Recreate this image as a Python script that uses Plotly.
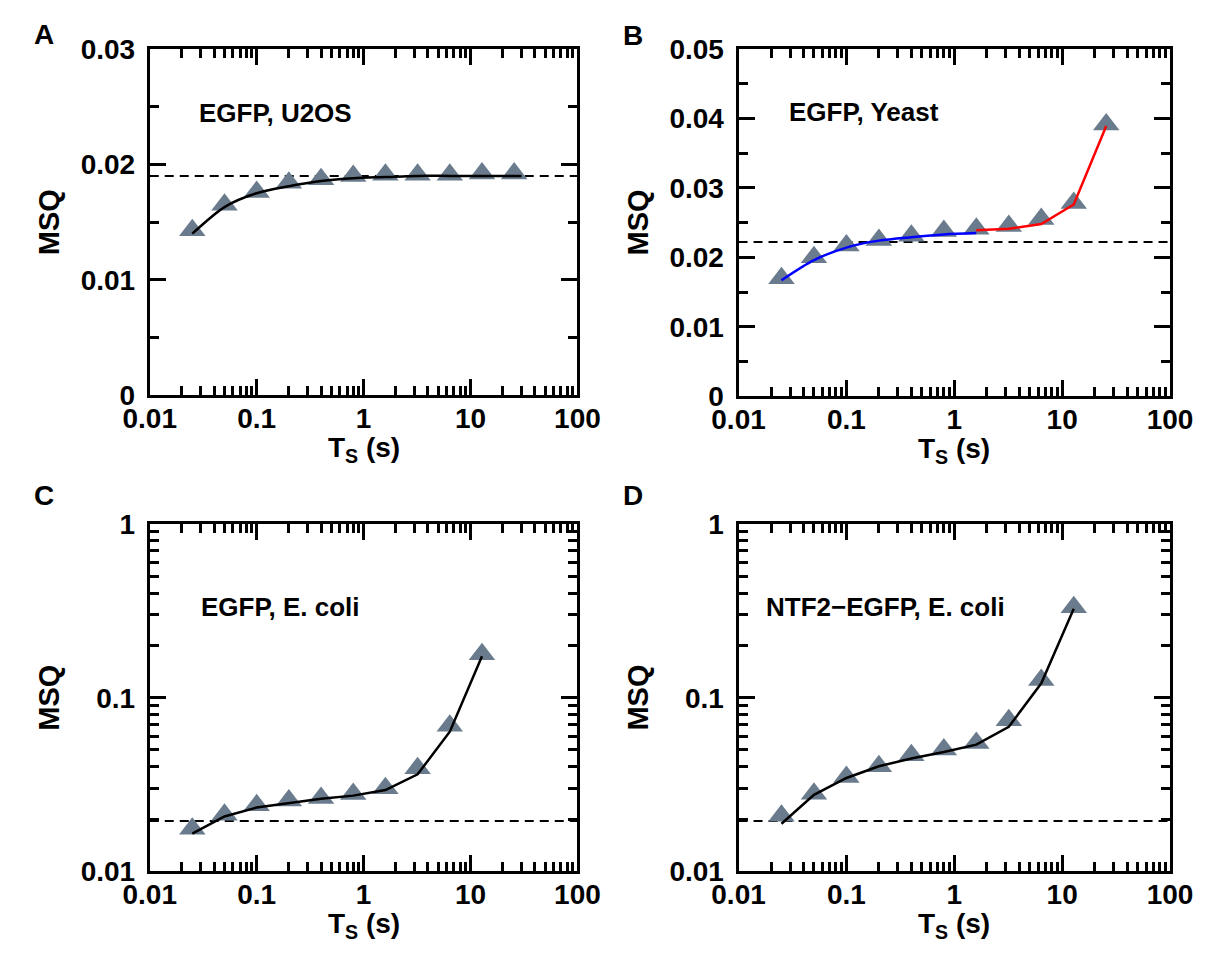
import plotly.graph_objects as go

W, H = 1218, 959
FONT = "Liberation Sans, Arial, sans-serif"

# Sampling times (s)
ts = [0.025, 0.05, 0.1, 0.2, 0.4, 0.8, 1.6, 3.2, 6.4, 12.8, 25.6]
ts_ecoli = [0.025, 0.05, 0.1, 0.2, 0.4, 0.8, 1.6, 3.2, 6.4, 12.8]

# A: EGFP, U2OS
msq_u2os = [0.0143, 0.0165, 0.0176, 0.0184, 0.0187, 0.0190, 0.0191, 0.0191, 0.0191, 0.0192, 0.0192]
fit_u2os_t = [0.025, 0.05, 0.1, 0.2, 0.4, 0.8, 1.6, 3.2, 6.4, 12.8, 30.0]
fit_u2os = [0.0140, 0.0163, 0.0175, 0.0181, 0.01855, 0.0188, 0.0189, 0.0190, 0.0190, 0.0190, 0.0190]
plateau_u2os = 0.0190

# B: EGFP, Yeast
msq_yeast = [0.0170, 0.0200, 0.0217, 0.0225, 0.0231, 0.0238, 0.0241, 0.0245, 0.0255, 0.0278, 0.0391]
fit_yeast_short_t = [0.025, 0.05, 0.1, 0.2, 0.4, 0.8, 1.6]
fit_yeast_short = [0.0167, 0.0196, 0.0214, 0.0224, 0.0229, 0.0233, 0.0235]
fit_yeast_long_t = [1.6, 3.2, 6.4, 12.8, 25.6]
fit_yeast_long = [0.0239, 0.0241, 0.0248, 0.0276, 0.0389]
plateau_yeast = 0.0222

# C: EGFP, E. coli
msq_ecoli = [0.0176, 0.0212, 0.0240, 0.0256, 0.0265, 0.0279, 0.0301, 0.0393, 0.0690, 0.178]
line_ecoli = [0.0165, 0.0207, 0.0233, 0.0248, 0.0262, 0.0273, 0.0294, 0.0362, 0.0637, 0.173]
plateau_ecoli = 0.0195

# D: NTF2-EGFP, E. coli
msq_ntf2 = [0.0209, 0.0280, 0.0350, 0.0403, 0.0467, 0.0504, 0.0549, 0.0741, 0.1266, 0.332]
line_ntf2 = [0.0188, 0.0276, 0.0345, 0.0403, 0.0447, 0.0487, 0.0537, 0.0680, 0.121, 0.325]
plateau_ntf2 = 0.0195

# Axis ticks
x_tickvals = [0.01, 0.1, 1, 10, 100]
x_ticktext = ["0.01", "0.1", "1", "10", "100"]
yA_tickvals = [0, 0.01, 0.02, 0.03]
yA_ticktext = ["0", "0.01", "0.02", "0.03"]
yB_tickvals = [0, 0.01, 0.02, 0.03, 0.04, 0.05]
yB_ticktext = ["0", "0.01", "0.02", "0.03", "0.04", "0.05"]
yLog_tickvals = [0.01, 0.1, 1]
yLog_ticktext = ["0.01", "0.1", "1"]

panel_letters = ["A", "B", "C", "D"]
panel_titles = ["EGFP, U2OS", "EGFP, Yeast", "EGFP, E. coli", "NTF2\u2212EGFP, E. coli"]

MARKER_COLOR = "#6a7b8d"

# Plot boxes in pixels (left, right, top, bottom)
boxes = [(128, 574, 35, 393), (742, 1192, 35, 394), (128, 574, 526, 885), (742, 1192, 526, 885)]


def fx(p):
    return p / W


def fy(p):
    return 1 - p / H


fig = go.Figure()


def add_panel(i, t_pts, y_pts, lines, plateau):
    xa = "x" if i == 0 else f"x{i + 1}"
    ya = "y" if i == 0 else f"y{i + 1}"
    fig.add_trace(go.Scatter(x=[0.01, 100], y=[plateau, plateau], mode="lines",
                             line=dict(color="black", width=2, dash="9px,6px"),
                             xaxis=xa, yaxis=ya, showlegend=False, hoverinfo="skip"))
    fig.add_trace(go.Scatter(x=t_pts, y=y_pts, mode="markers",
                             marker=dict(symbol="triangle-up", size=23, color=MARKER_COLOR,
                                         line=dict(width=0)),
                             xaxis=xa, yaxis=ya, showlegend=False, cliponaxis=False))
    for lx, ly, col, shape in lines:
        fig.add_trace(go.Scatter(x=lx, y=ly, mode="lines",
                                 line=dict(color=col, width=2.5, shape=shape, smoothing=0.8),
                                 xaxis=xa, yaxis=ya, showlegend=False))


add_panel(0, ts, msq_u2os, [(fit_u2os_t, fit_u2os, "black", "spline")], plateau_u2os)
add_panel(1, ts, msq_yeast, [(fit_yeast_short_t, fit_yeast_short, "#0000ff", "spline"),
                             (fit_yeast_long_t, fit_yeast_long, "#ff0000", "linear")], plateau_yeast)
add_panel(2, ts_ecoli, msq_ecoli, [(ts_ecoli, line_ecoli, "black", "linear")], plateau_ecoli)
add_panel(3, ts_ecoli, msq_ntf2, [(ts_ecoli, line_ntf2, "black", "linear")], plateau_ntf2)

tickfont = dict(family=FONT, size=28, color="black", weight="bold")
common = dict(showline=True, linecolor="black", linewidth=3, mirror="ticks",
              ticks="inside", ticklen=16, tickwidth=2.5, tickcolor="black",
              showgrid=False, zeroline=False, tickfont=tickfont)

layout = dict(width=W, height=H, margin=dict(l=0, r=0, t=0, b=0),
              plot_bgcolor="white", paper_bgcolor="white", showlegend=False)

y_specs = [
    dict(type="linear", range=[0, 0.03], tickvals=yA_tickvals, ticktext=yA_ticktext,
         minor=dict(ticks="inside", ticklen=9, tickwidth=2.5, tickcolor="black", dtick=0.005)),
    dict(type="linear", range=[0, 0.05], tickvals=yB_tickvals, ticktext=yB_ticktext,
         minor=dict(ticks="inside", ticklen=9, tickwidth=2.5, tickcolor="black", dtick=0.005)),
    dict(type="log", range=[-2, 0], tickvals=yLog_tickvals, ticktext=yLog_ticktext,
         minor=dict(ticks="inside", ticklen=9, tickwidth=2.5, tickcolor="black", dtick="D1")),
    dict(type="log", range=[-2, 0], tickvals=yLog_tickvals, ticktext=yLog_ticktext,
         minor=dict(ticks="inside", ticklen=9, tickwidth=2.5, tickcolor="black", dtick="D1")),
]

annotations = []
for i, (l, r, t, b) in enumerate(boxes):
    xk = "xaxis" if i == 0 else f"xaxis{i + 1}"
    yk = "yaxis" if i == 0 else f"yaxis{i + 1}"
    ya = "y" if i == 0 else f"y{i + 1}"
    xa = "x" if i == 0 else f"x{i + 1}"
    layout[xk] = dict(common, type="log", range=[-2, 2], tickvals=x_tickvals, ticktext=x_ticktext,
                      domain=[fx(l), fx(r)], anchor=ya, ticklabelstandoff=-4,
                      minor=dict(ticks="inside", ticklen=9, tickwidth=2.5, tickcolor="black", dtick="D1"))
    layout[yk] = dict(common, domain=[fy(b), fy(t)], anchor=xa, ticklabelstandoff=6, **y_specs[i])

    # axis titles
    annotations.append(dict(text="T<sub>S</sub> (s)", xref="paper", yref="paper",
                            x=fx((l + r) / 2), y=fy(b + 56), xanchor="center", yanchor="middle",
                            showarrow=False, font=dict(family=FONT, size=28, color="black", weight="bold")))
    annotations.append(dict(text="MSQ", xref="paper", yref="paper", textangle=-90,
                            x=fx(l - 105), y=fy((t + b) / 2), xanchor="center", yanchor="middle",
                            showarrow=False, font=dict(family=FONT, size=29, color="black", weight="bold")))

# panel letters
letter_pos = [(18, 20), (632, 21), (18, 497), (632, 497)]
for letter, (px, py) in zip(panel_letters, letter_pos):
    annotations.append(dict(text=letter, xref="paper", yref="paper", x=fx(px), y=fy(py),
                            xanchor="center", yanchor="middle", showarrow=False,
                            font=dict(family=FONT, size=28, color="black", weight="bold")))

# sample labels inside each panel
title_pos = [(177, 101), (793, 100), (179, 612), (769, 612)]
for title, (px, py) in zip(panel_titles, title_pos):
    annotations.append(dict(text=title, xref="paper", yref="paper", x=fx(px), y=fy(py),
                            xanchor="left", yanchor="middle", showarrow=False,
                            font=dict(family=FONT, size=26, color="black", weight="bold")))

layout["annotations"] = annotations
fig.update_layout(**layout)
fig.write_html("out.html")
